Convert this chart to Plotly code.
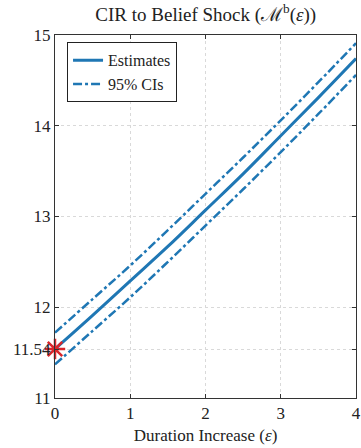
import plotly.graph_objects as go

duration = [0, 0.5, 1, 1.5, 2, 2.5, 3, 3.5, 4]
estimates = [11.54, 11.91, 12.29, 12.67, 13.07, 13.47, 13.89, 14.31, 14.74]
ci_upper = [11.72, 12.09, 12.46, 12.85, 13.25, 13.65, 14.06, 14.48, 14.91]
ci_lower = [11.37, 11.74, 12.11, 12.50, 12.90, 13.30, 13.71, 14.13, 14.56]
star_x = [0]
star_y = [11.54]
x_ticks = [0, 1, 2, 3, 4]
y_ticks = [11, 11.54, 12, 13, 14, 15]
y_tick_labels = ["11", "11.54", "12", "13", "14", "15"]

blue = "#1f77b4"
red = "#d9262b"
font_family = "'Liberation Serif', 'DejaVu Serif', serif"

fig = go.Figure()
fig.add_trace(go.Scatter(x=duration, y=estimates, mode="lines", name="Estimates",
                         line=dict(color=blue, width=3, shape="spline")))
fig.add_trace(go.Scatter(x=duration, y=ci_upper, mode="lines", name="95% CIs",
                         line=dict(color=blue, width=2.5, dash="dashdot", shape="spline")))
fig.add_trace(go.Scatter(x=duration, y=ci_lower, mode="lines", name="95% CIs",
                         showlegend=False,
                         line=dict(color=blue, width=2.5, dash="dashdot", shape="spline")))
fig.add_trace(go.Scatter(x=star_x, y=star_y, mode="markers", showlegend=False,
                         marker=dict(symbol="asterisk-open", size=17, color=red,
                                     line=dict(color=red, width=2.5)),
                         cliponaxis=False))

axis_common = dict(showline=True, linecolor="#333", linewidth=1, mirror="ticks",
                   ticks="inside", ticklen=4, tickcolor="#333", automargin=False,
                   showgrid=True, gridcolor="#d9d9d9", griddash="dot", gridwidth=1,
                   zeroline=False, tickfont=dict(size=17, color="#222", family=font_family))

fig.update_layout(
    width=361, height=448,
    margin=dict(l=55, r=5, t=35, b=50),
    plot_bgcolor="white", paper_bgcolor="white",
    font=dict(family=font_family, color="#222"),
    title=dict(text="CIR to Belief Shock (ℳ<sup>b</sup>(<i>ε</i>))", x=0.57, xanchor="center",
               y=0.968, yanchor="middle", font=dict(size=19, color="#222", family=font_family)),
    xaxis=dict(range=[0, 4], tickvals=x_ticks,
               title=dict(text="Duration Increase (<i>ε</i>)", font=dict(size=17), standoff=6),
               **axis_common),
    yaxis=dict(range=[11, 15], tickvals=y_ticks, ticktext=y_tick_labels, **axis_common),
    legend=dict(x=0.04, y=0.98, xanchor="left", yanchor="top",
                bordercolor="#222", borderwidth=1, bgcolor="white",
                font=dict(size=16, family=font_family), tracegroupgap=0),
)

fig.write_html("out.html")
